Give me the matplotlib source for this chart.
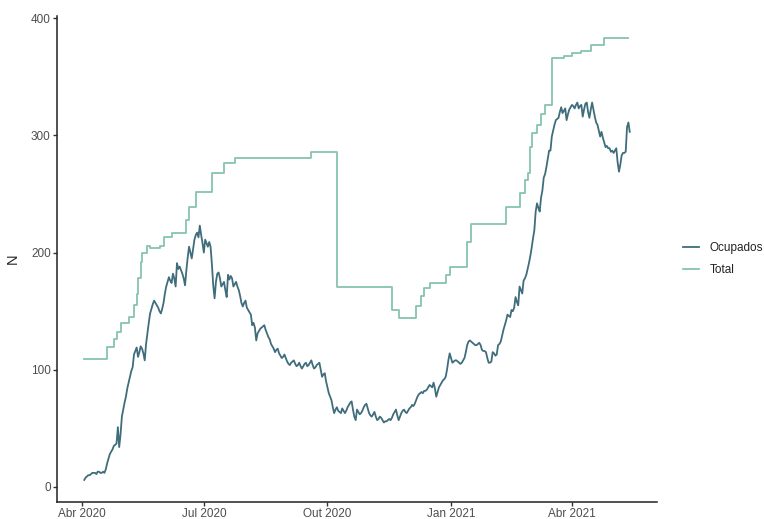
import numpy as np
import pandas as pd
import matplotlib
matplotlib.use("Agg")
import matplotlib.pyplot as plt
import matplotlib.dates as mdates

plt.rcParams["font.family"] = ["Liberation Sans", "DejaVu Sans"]

# leitos ocupados, diario a partir de 2020-04-03
ocupados = [
    6, 8, 9, 10, 10, 11, 12, 12, 12, 11,
    13, 13, 12, 12, 13, 12, 15, 20, 24, 28,
    30, 32, 35, 36, 37, 51, 34, 45, 60, 66,
    72, 77, 84, 89, 94, 99, 102, 113, 116, 119,
    111, 115, 120, 118, 114, 108, 122, 131, 140, 148,
    152, 156, 159, 157, 155, 153, 150, 148, 152, 157,
    165, 171, 175, 179, 176, 174, 182, 178, 171, 191,
    186, 188, 185, 182, 178, 172, 185, 196, 205, 200,
    195, 203, 211, 215, 217, 213, 223, 215, 208, 200,
    211, 208, 205, 209, 205, 190, 172, 161, 175, 182,
    183, 178, 171, 173, 175, 168, 162, 181, 177, 180,
    178, 171, 173, 175, 171, 168, 163, 157, 154, 157,
    159, 153, 151, 149, 147, 138, 140, 136, 125, 131,
    133, 135, 136, 137, 138, 134, 131, 128, 126, 122,
    120, 118, 115, 117, 118, 114, 112, 110, 111, 113,
    110, 107, 105, 104, 106, 107, 108, 105, 103, 104,
    106, 103, 101, 103, 105, 106, 103, 104, 106, 108,
    104, 101, 102, 104, 105, 106, 100, 94, 96, 97,
    90, 85, 80, 77, 74, 68, 63, 66, 68, 65,
    64, 63, 67, 65, 63, 65, 68, 70, 72, 73,
    66, 60, 57, 66, 64, 62, 63, 65, 68, 70,
    71, 67, 63, 61, 60, 62, 64, 60, 57, 58,
    60, 59, 57, 55, 56, 56, 57, 58, 57, 59,
    62, 64, 66, 61, 57, 60, 63, 65, 66, 64,
    63, 65, 67, 68, 70, 69, 71, 74, 77, 79,
    80, 81, 80, 82, 82, 83, 85, 87, 86, 85,
    89, 84, 77, 81, 85, 87, 89, 91, 92, 94,
    100, 108, 114, 110, 106, 107, 108, 108, 107, 106,
    105, 106, 108, 110, 115, 121, 124, 125, 124, 123,
    122, 121, 121, 122, 123, 121, 117, 116, 116, 115,
    110, 106, 106, 107, 115, 114, 112, 113, 121, 122,
    124, 129, 134, 138, 142, 147, 146, 145, 151, 150,
    153, 162, 158, 155, 171, 168, 165, 176, 178, 181,
    186, 191, 197, 204, 212, 219, 235, 242, 238, 235,
    247, 253, 264, 267, 273, 280, 287, 287, 299, 304,
    309, 313, 314, 315, 320, 324, 319, 321, 323, 313,
    318, 322, 324, 326, 325, 323, 326, 328, 323, 325,
    326, 316, 322, 327, 328, 320, 315, 322, 328, 322,
    316, 311, 309, 304, 299, 303, 298, 294, 290, 291,
    289, 289, 286, 287, 285, 287, 289, 277, 269, 275,
    283, 285, 285, 286, 307, 311, 303,
]
ocupados_dates = pd.date_range("2020-04-03", periods=len(ocupados), freq="D")

# leitos totais: datas em que o numero muda
total_dates = pd.to_datetime([
    "2020-04-03", "2020-04-20", "2020-04-25", "2020-04-27", "2020-04-30",
    "2020-05-06", "2020-05-10", "2020-05-12", "2020-05-13", "2020-05-15",
    "2020-05-16", "2020-05-20", "2020-05-22", "2020-05-29", "2020-06-01",
    "2020-06-07", "2020-06-18", "2020-06-20", "2020-06-25", "2020-07-07",
    "2020-07-16", "2020-07-24", "2020-09-19", "2020-10-08", "2020-11-18",
    "2020-11-23", "2020-12-06", "2020-12-10", "2020-12-12", "2020-12-16",
    "2020-12-28", "2020-12-31", "2021-01-13", "2021-01-16", "2021-02-11",
    "2021-02-21", "2021-02-25", "2021-02-27", "2021-03-01", "2021-03-02",
    "2021-03-06", "2021-03-09", "2021-03-12", "2021-03-17", "2021-03-26",
    "2021-04-01", "2021-04-08", "2021-04-15", "2021-04-25", "2021-05-13",
])
total = [
    109, 119, 126, 132, 140,
    145, 155, 165, 178, 192,
    200, 206, 204, 206, 213,
    217, 228, 239, 252, 268,
    276, 281, 286, 171, 151,
    144, 154, 163, 170, 174,
    181, 188, 209, 224, 239,
    251, 262, 268, 290, 302,
    309, 318, 326, 366, 368,
    370, 372, 377, 383, 383,
]

tick_dates = pd.to_datetime(["2020-04-01", "2020-07-01", "2020-10-01",
                             "2021-01-01", "2021-04-01"])
tick_labels = ["Abr 2020", "Jul 2020", "Out 2020", "Jan 2021", "Abr 2021"]

col_ocup = "#3f6d7b"
col_total = "#86c4ad"

fig = plt.figure(figsize=(7.64, 5.19), dpi=100)
ax = fig.add_axes([57 / 764, 17 / 519, 600 / 764, 486 / 519])

ax.plot(ocupados_dates, ocupados, color=col_ocup, lw=1.3, label="Ocupados")
ax.plot(total_dates, total, color=col_total, lw=1.3, drawstyle="steps-post",
        label="Total")

# expansao de 5% como no ggplot
x0, x1 = mdates.date2num(ocupados_dates[0]), mdates.date2num(ocupados_dates[-1])
pad = (x1 - x0) * 0.05
ax.set_xlim(x0 - pad, x1 + pad)
ymin, ymax = min(ocupados), max(total)
ypad = (ymax - ymin) * 0.05
ax.set_ylim(ymin - ypad, ymax + ypad)

ax.set_xticks(tick_dates)
ax.set_xticklabels(tick_labels)
ax.set_yticks([0, 100, 200, 300, 400])

for side in ["top", "right"]:
    ax.spines[side].set_visible(False)
for side in ["left", "bottom"]:
    ax.spines[side].set_linewidth(1.1)
    ax.spines[side].set_color("#222222")
ax.tick_params(length=3, width=1.0, color="#333333", labelsize=8.5,
               labelcolor="#4d4d4d", pad=1.5)

ax.set_ylabel("N", fontsize=10.5, color="#222222", labelpad=8)
ax.set_xlabel("")

leg = ax.legend(loc="center left", bbox_to_anchor=(1.043, 0.5), frameon=False,
                fontsize=8.5, handlelength=1.4, handletextpad=0.9,
                labelspacing=0.9, borderpad=0, borderaxespad=0)
for t in leg.get_texts():
    t.set_color("#222222")

fig.savefig("out.png", dpi=100)
